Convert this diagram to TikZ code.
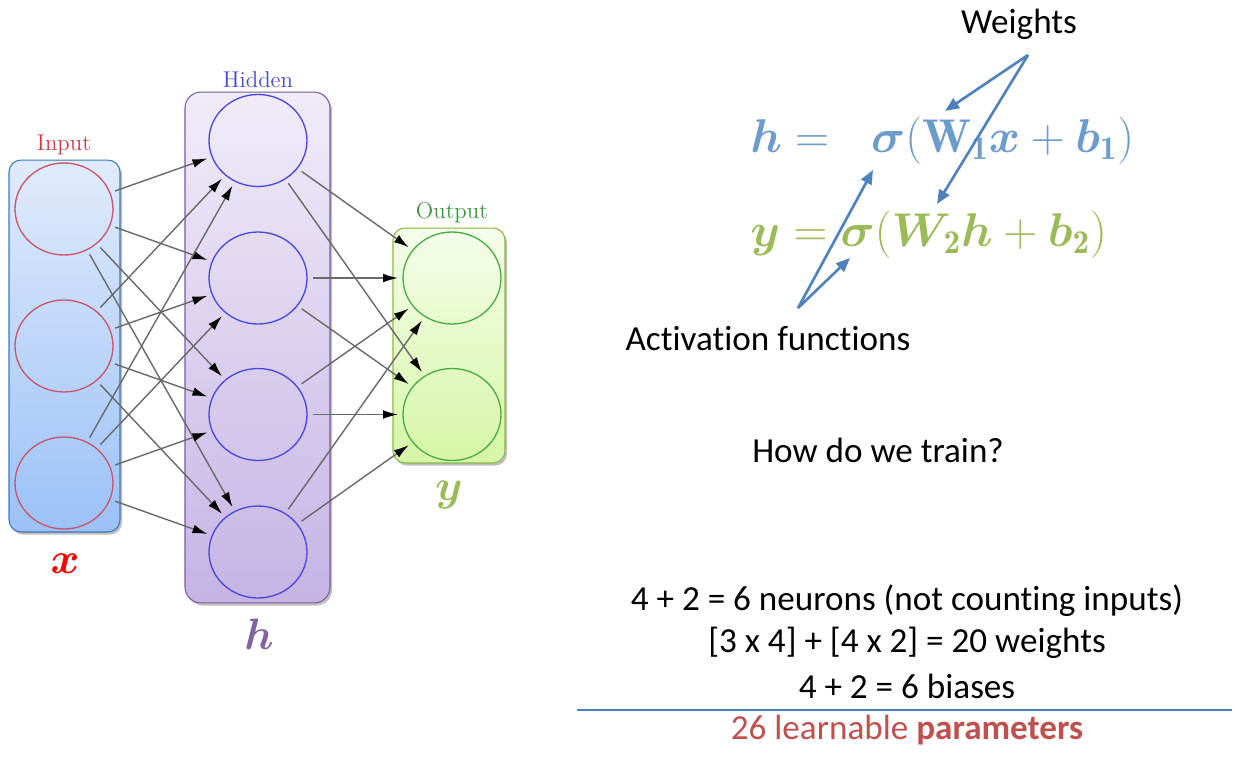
\RequirePackage{fix-cm}
\documentclass[tikz,border=0pt]{standalone}
\usepackage{amsmath}
\usepackage{fontspec}
\usepackage{bm}
\newfontfamily\carl[Ligatures=NoCommon]{Carlito}
\usetikzlibrary{shapes.geometric,arrows.meta,shadows}

\definecolor{inTop}{RGB}{224,235,252}
\definecolor{inBot}{RGB}{155,193,247}
\definecolor{inBorder}{RGB}{60,120,190}
\definecolor{inCircle}{RGB}{200,85,105}
\definecolor{inLabel}{RGB}{200,60,70}
\definecolor{hidTop}{RGB}{241,236,249}
\definecolor{hidBot}{RGB}{197,180,228}
\definecolor{hidBorder}{RGB}{120,92,158}
\definecolor{hidCircle}{RGB}{72,72,222}
\definecolor{hidLabel}{RGB}{72,72,215}
\definecolor{outTop}{RGB}{245,253,234}
\definecolor{outBot}{RGB}{214,246,166}
\definecolor{outBorder}{RGB}{140,182,72}
\definecolor{outCircle}{RGB}{72,172,72}
\definecolor{outLabel}{RGB}{60,150,60}
\definecolor{edgegray}{RGB}{105,105,105}
\definecolor{eqblue}{RGB}{108,156,204}
\definecolor{eqgreen}{RGB}{155,187,89}
\definecolor{annblue}{RGB}{79,129,189}
\definecolor{xred}{RGB}{255,0,0}
\definecolor{hpurple}{RGB}{128,100,162}
\definecolor{paramred}{RGB}{192,80,77}

\tikzset{
  layerbox/.style={draw, line width=0.6pt,
    drop shadow={shadow xshift=1.2pt, shadow yshift=-1.5pt, opacity=0.25, fill=black}},
  inbox/.style={layerbox, rounded corners=0.24cm, draw=inBorder, top color=inTop, bottom color=inBot},
  hidbox/.style={layerbox, rounded corners=0.32cm, draw=hidBorder, top color=hidTop, bottom color=hidBot},
  outbox/.style={layerbox, rounded corners=0.24cm, draw=outBorder, top color=outTop, bottom color=outBot},
  neuron/.style={ellipse, draw, line width=0.75pt, minimum width=1.96cm, minimum height=1.84cm, inner sep=0pt},
  layerlabel/.style={font=\fontsize{13}{15}\selectfont, inner sep=0pt},
  varlabel/.style={font=\fontsize{25}{29}\selectfont, inner sep=0pt},
  edge/.style={draw=edgegray, line width=0.8pt, shorten <=2.8pt, shorten >=2.5pt,
    -{Latex[length=8.5pt,width=5pt,color=black]}},
  eqn/.style={font=\fontsize{27}{32}\selectfont, inner sep=0pt, anchor=west},
  txt/.style={font=\fontsize{20}{24}\selectfont\carl, inner sep=0pt},
  annarrow/.style={draw=annblue, line width=1.5pt, -{Triangle[length=8pt,width=6.5pt]}},
  sepline/.style={draw=annblue, line width=0.7pt}
}

\begin{document}
\begin{tikzpicture}[x=0.02cm,y=-0.02cm]
\useasboundingbox (0,0) rectangle (1243,771);

% layer boxes
\node[inbox, minimum width=2.22cm, minimum height=7.44cm] (inbox) at (64.5,346) {};
\node[hidbox, minimum width=2.9cm, minimum height=10.22cm] (hidbox) at (257.5,347.5) {};
\node[outbox, minimum width=2.24cm, minimum height=4.7cm] (outbox) at (449,345.5) {};

% layer titles
\node[layerlabel, text=inLabel] (inlab) at (64,145) {Input};
\node[layerlabel, text=hidLabel] (hidlab) at (258,80) {Hidden};
\node[layerlabel, text=outLabel] (outlab) at (452,213) {Output};

% neurons
\node[neuron, draw=inCircle] (i1) at (64,209) {};
\node[neuron, draw=inCircle] (i2) at (64,346) {};
\node[neuron, draw=inCircle] (i3) at (64,483) {};
\node[neuron, draw=hidCircle] (h1) at (258,140.5) {};
\node[neuron, draw=hidCircle] (h2) at (258,278) {};
\node[neuron, draw=hidCircle] (h3) at (258,414.5) {};
\node[neuron, draw=hidCircle] (h4) at (258,552) {};
\node[neuron, draw=outCircle] (o1) at (452,278) {};
\node[neuron, draw=outCircle] (o2) at (452,414.5) {};

% connections
\foreach \a in {1,2,3}
  \foreach \b in {1,2,3,4}
    \draw[edge] (i\a) -- (h\b);
\foreach \a in {1,2,3,4}
  \foreach \b in {1,2}
    \draw[edge] (h\a) -- (o\b);

% variable labels
\node[varlabel, text=xred] (xlab) at (65,564) {$\bm{x}$};
\node[varlabel, text=hpurple] (hlab) at (259,634) {$\bm{h}$};
\node[varlabel, text=eqgreen] (ylab) at (449,495) {$\bm{y}$};

% equations
\node[eqn, text=eqblue] (eq1) at (750,140.5)
  {$\bm{h} =\ \ \bm{\sigma}(\mathbf{W}_{\mathbf{1}}\bm{x} + \bm{b}_{\mathbf{1}})$};
\node[eqn, text=eqgreen] (eq2) at (750,235)
  {$\bm{y} = \bm{\sigma}(\bm{W}_{\mathbf{2}}\bm{h} + \bm{b}_{\mathbf{2}})$};

% annotations
\node[txt] (weights) at (1019,24) {Weights};
\node[txt] (activ) at (768,339) {Activation functions};
\coordinate (wa) at (1028,55);
\coordinate (wt1) at (945,111);
\coordinate (wt2) at (937,204);
\coordinate (ab) at (798,308);
\coordinate (at1) at (873,170);
\coordinate (at2) at (850,258);
\draw[annarrow] (wa) -- (wt1);
\draw[annarrow] (wa) -- (wt2);
\draw[annarrow] (ab) -- (at1);
\draw[annarrow] (ab) -- (at2);

\node[txt] (train) at (878,450) {How do we train?};
\node[txt] (neurons) at (907,601) {4 + 2 = 6 neurons (not counting inputs)};
\node[txt] (wcount) at (907,643) {[3 x 4] + [4 x 2] = 20 weights};
\node[txt] (biases) at (907,686) {4 + 2 = 6 biases};
\coordinate (sepL) at (577,710);
\coordinate (sepR) at (1232,710);
\draw[sepline] (sepL) -- (sepR);
\node[txt, text=paramred] (params) at (907,730) {26 learnable \textbf{parameters}};
\end{tikzpicture}
\end{document}
